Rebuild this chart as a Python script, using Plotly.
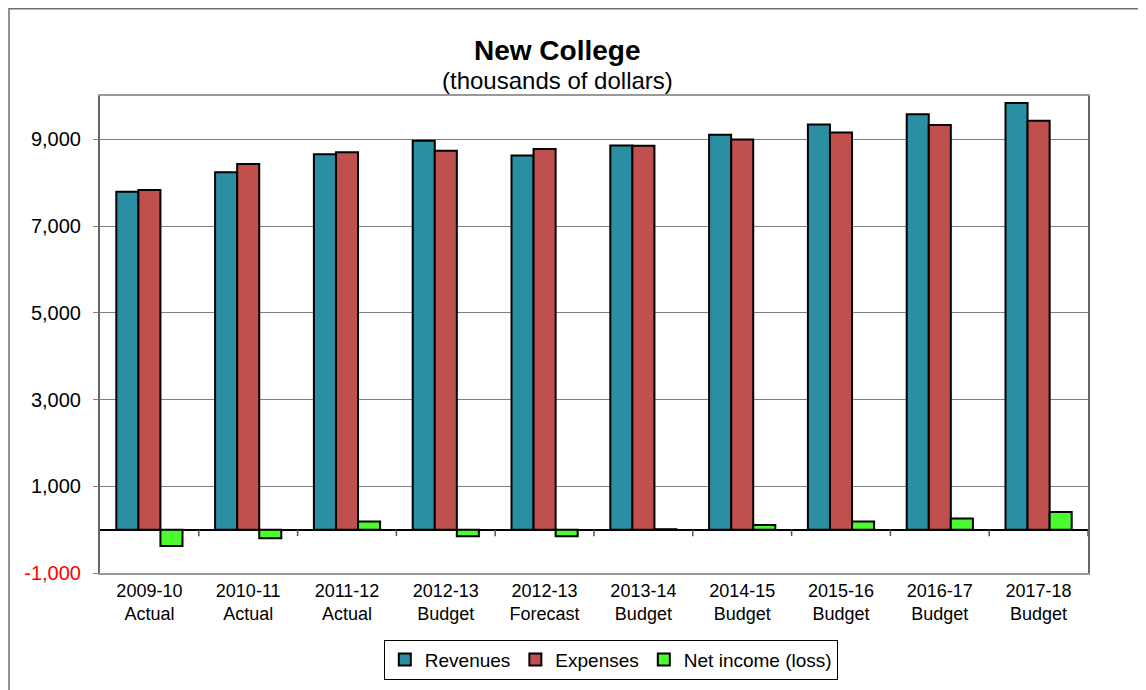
import plotly.graph_objects as go

years = ["2009-10", "2010-11", "2011-12", "2012-13", "2012-13", "2013-14",
         "2014-15", "2015-16", "2016-17", "2017-18"]
kinds = ["Actual", "Actual", "Actual", "Budget", "Forecast", "Budget",
         "Budget", "Budget", "Budget", "Budget"]
revenues = [7790, 8240, 8655, 8970, 8630, 8860, 9105, 9345, 9580, 9840]
expenses = [7830, 8430, 8700, 8740, 8775, 8855, 8995, 9160, 9330, 9430]
net_income = [-380, -200, 190, -150, -150, 10, 105, 185, 255, 405]

y_ticks = [-1000, 1000, 3000, 5000, 7000, 9000]

FONT = "Liberation Sans, Arial, sans-serif"
idx = list(range(len(years)))
labels = [f"{a}<br>{b}" for a, b in zip(years, kinds)]

fig = go.Figure()
for name, vals, col in [("Revenues", revenues, "#2A8FA3"),
                        ("Expenses", expenses, "#C0504D"),
                        ("Net income (loss)", net_income, "#4BFB2D")]:
    fig.add_trace(go.Bar(x=idx, y=vals, name=name,
                         marker=dict(color=col, line=dict(color="black", width=2))))

ytext = []
for v in y_ticks:
    s = f"{v:,}"
    if v < 0:
        s = f'<span style="color:red">{s}</span>'
    ytext.append(s)

fig.update_layout(
    width=1146, height=690, autosize=False,
    margin=dict(l=92, r=66, t=88, b=125),
    paper_bgcolor="white", plot_bgcolor="white",
    font=dict(family=FONT, color="black", size=18),
    barmode="group", bargap=0.33, bargroupgap=0,
    showlegend=True,
    legend=dict(orientation="h", x=0.517, xanchor="center", y=-0.1395, yanchor="top",
                bordercolor="black", borderwidth=1, font=dict(size=19),
                itemwidth=30, traceorder="normal"),
    xaxis=dict(tickmode="array", tickvals=idx, ticktext=labels,
               range=[-0.5, len(years) - 0.5],
               showgrid=False, ticks="", showline=True, linecolor="#999999",
               linewidth=2, mirror=True, tickfont=dict(size=18)),
    yaxis=dict(range=[-1000, 10000], tickmode="array", tickvals=y_ticks, ticktext=ytext,
               showgrid=True, gridcolor="#808080", gridwidth=1,
               ticks="outside", ticklen=5, tickcolor="#808080",
               showline=True, linecolor="#666666", linewidth=2, mirror=True,
               zeroline=True, zerolinecolor="black", zerolinewidth=1.5,
               tickfont=dict(size=20), ticklabelstandoff=8),
)

# category tick marks on the zero line
for i in range(len(years)):
    fig.add_shape(type="line", xref="x", yref="y", x0=i + 0.5, x1=i + 0.5,
                  y0=0, y1=-150, line=dict(color="#555555", width=1.5))

# outer chart frame
fig.add_shape(type="rect", xref="paper", yref="paper",
              x0=-0.0921, x1=1.1, y0=-0.3, y1=1.1829,
              line=dict(color="#707070", width=1.5), layer="below")

fig.add_annotation(text="<b>New College</b>", xref="paper", yref="paper",
                   x=0.4626, y=1.0964, showarrow=False, font=dict(size=28),
                   xanchor="center", yanchor="middle")
fig.add_annotation(text="(thousands of dollars)", xref="paper", yref="paper",
                   x=0.4626, y=1.0335, showarrow=False, font=dict(size=24),
                   xanchor="center", yanchor="middle")

fig.write_html("out.html")
